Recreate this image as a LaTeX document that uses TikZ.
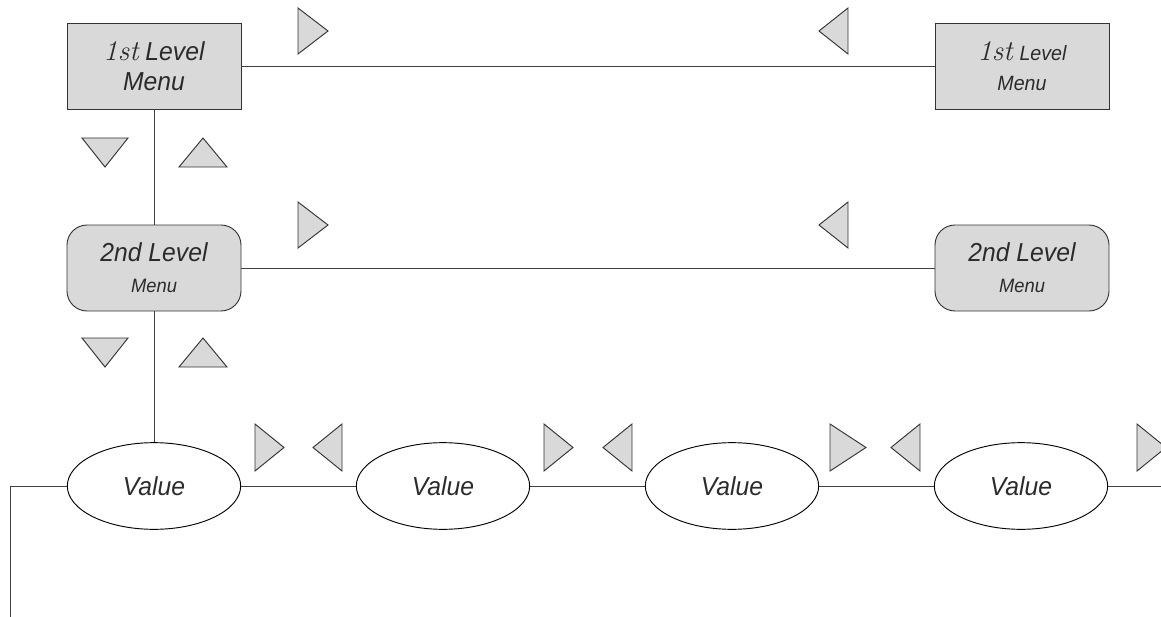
\documentclass[tikz,border=0pt]{standalone}
\usepackage{fontspec}
\setmainfont[FakeStretch=0.95]{Liberation Sans}
\newfontfamily\mathish{Latin Modern Roman}
\usetikzlibrary{shapes.geometric}
\definecolor{boxgray}{HTML}{D9D9D9}
\definecolor{ink}{HTML}{2B2B2B}
\newcommand{\bigtxt}{\fontsize{19.5}{23}\selectfont}
\newcommand{\midtxt}{\fontsize{15.5}{23}\selectfont}
\newcommand{\smalltxt}{\fontsize{14.5}{23}\selectfont}
\newcommand{\ordinal}[1]{{\mathish\itshape\fontsize{21.5}{23}\selectfont #1}}
\tikzset{
	menubox/.style={draw=black!80, line width=0.7pt, fill=boxgray, minimum width=130.5pt, minimum height=64.5pt, align=center, text=ink, font=\itshape\bigtxt},
	roundbox/.style={menubox, rounded corners=15pt},
	valbox/.style={ellipse, draw=black, line width=0.7pt, fill=white, minimum width=130pt, minimum height=65pt, text=ink, font=\itshape\bigtxt},
	tri/.style={draw=black!80, line width=0.7pt, fill=boxgray},
	link/.style={draw=black!75, line width=0.7pt}
}
\begin{document}
\begin{tikzpicture}[x=0.75pt, y=-0.75pt]
	\useasboundingbox (0,0) rectangle (1161,617);
	% menu boxes
	\node[menubox] (m1) at (154,66) {\ordinal{1st} Level\\Menu};
	\node[menubox] (m1r) at (1022,66) {\ordinal{1st} {\midtxt Level}\\{\midtxt Menu}};
	\node[roundbox] (m2) at (154,268) {2nd Level\\{\smalltxt Menu}};
	\node[roundbox] (m2r) at (1022,268) {2nd Level\\{\smalltxt Menu}};
	% value row
	\foreach \i/\x in {1/154,2/443,3/732,4/1021}
		\node[valbox] (v\i) at (\x,486) {Value};
	\coordinate (loopend) at (10,617);
	\coordinate (exit) at (1161,486);
	% connectors
	\draw[link] (m1) -- (m1r);
	\draw[link] (m1) -- (m2);
	\draw[link] (m2) -- (m2r);
	\draw[link] (m2) -- (v1);
	\foreach \a/\b in {v1/v2,v2/v3,v3/v4}
		\draw[link] (\a) -- (\b);
	\draw[link] (v4) -- (exit);
	\draw[link] (loopend) |- (v1);
	% triangles, rows 1 and 2
	\foreach \y in {31,225} {
		\draw[tri] (298,\y-23) -- (298,\y+23) -- (328,\y) -- cycle;
		\draw[tri] (848,\y-23) -- (848,\y+23) -- (819,\y) -- cycle;
	}
	\foreach \y in {138,338} {
		\draw[tri] (82,\y) -- (128,\y) -- (105,\y+29) -- cycle;
		\draw[tri] (179,\y+29) -- (227,\y+29) -- (203,\y) -- cycle;
	}
	% triangles, value row
	\foreach \r/\w in {255/29,544/29,830/36,1137/29}
		\draw[tri] (\r,424) -- (\r,471) -- (\r+\w,447.5) -- cycle;
	\foreach \l in {342,632,920}
		\draw[tri] (\l,424) -- (\l,471) -- (\l-29,447.5) -- cycle;
\end{tikzpicture}
\end{document}
